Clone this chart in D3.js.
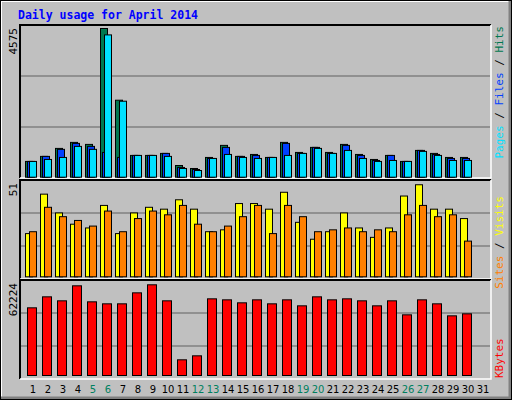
<!DOCTYPE html>
<html><head><meta charset="utf-8">
<script src="https://cdn.jsdelivr.net/npm/d3@7"></script>
<style>body{margin:0;background:#fff}</style>
</head><body><svg id="c" width="512" height="400"></svg>
<script>
const days = d3.range(1, 32);
const weekends = [5,6,12,13,19,20,26,27];
const hits  = [485,640,886,1071,1009,4575,2369,670,670,732,360,268,608,979,640,700,608,1071,762,917,762,1009,700,546,670,485,824,732,608,608,0];
const files = [485,640,857,1040,948,762,608,670,670,732,300,237,577,917,640,670,608,1040,732,917,732,979,670,515,670,485,824,700,577,577,0];
const pages = [485,546,608,948,857,4378,2338,670,670,640,268,206,577,700,608,577,608,670,732,886,732,824,577,485,515,485,794,670,515,515,0];
const visits = [23,44,34,28,26,38,23,34,37,36,41,36,24,25,39,39,36,45,29,20,24,34,26,21,26,43,49,36,36,31,0];
const sites  = [24,37,32,30,27,35,24,31,35,33,38,28,24,27,32,38,23,38,32,24,25,26,24,25,24,33,38,32,33,19,0];
const kbytes = [46430,53970,51230,61530,50540,49170,49170,56710,62224,51230,10760,13500,52600,51910,49860,51910,49170,51910,47800,53970,51910,52600,51230,47800,51230,41620,51910,49170,40930,42300,0];
const maxLabels = ["4575","51","62224"];

const svg = d3.select("#c");
const mono = "'DejaVu Sans Mono','Liberation Mono',monospace";
svg.append("rect").attr("width",512).attr("height",400).attr("fill","#C0C0C0");
// 3D outer border
svg.append("path").attr("d","M1,399V1H511").attr("stroke","#fff").attr("stroke-width",2).attr("fill","none");
svg.append("path").attr("d","M1,398H510V1").attr("stroke","#808080").attr("stroke-width",3).attr("fill","none");
svg.append("rect").attr("x",0.5).attr("y",0.5).attr("width",511).attr("height",399).attr("fill","none").attr("stroke","#000");

svg.append("text").attr("x",18).attr("y",19).attr("font-family",mono).attr("font-weight","bold")
  .attr("font-size",11.5).attr("fill","#0000FF").text("Daily usage for April 2014");

const x = d3.scaleLinear().domain([1,2]).range([25,40]);

function panel(top, bottom, base, maxY, maxV, label){
  svg.append("rect").attr("x",20).attr("y",top).attr("width",471).attr("height",bottom-top).attr("fill","#C0C0C0");
  const h = bottom-top;
  [1,2].forEach(i=>svg.append("line").attr("x1",21).attr("x2",490)
     .attr("y1",top+h*i/3).attr("y2",top+h*i/3).attr("stroke","#808080").attr("stroke-width",1.5));
  svg.append("path").attr("d",`M20,${bottom}V${top}H491`).attr("stroke","#000").attr("stroke-width",2).attr("fill","none");
  svg.append("path").attr("d",`M20,${bottom}H491V${top}`).attr("stroke","#fff").attr("stroke-width",1.5).attr("fill","none");
  svg.append("text").attr("transform",`translate(17,${top+3}) rotate(-90)`).attr("text-anchor","end")
    .attr("font-family",mono).attr("font-size",11).attr("fill","#000").text(label);
  return d3.scaleLinear().domain([0,maxV]).range([base,maxY]);
}
function bars(y, data, off, w, color){
  svg.append("g").selectAll("rect").data(data.map((v,i)=>({d:days[i],v})).filter(o=>o.v>0)).join("rect")
    .attr("x",o=>x(o.d)+off+0.5).attr("y",o=>y(o.v)+0.5).attr("width",w-1).attr("height",o=>y(0)-y(o.v))
    .attr("fill",color).attr("stroke","#000").attr("stroke-width",1);
}
const y1 = panel(25,178,176.7,28,4575,maxLabels[0]);
bars(y1,hits,0,8,"#007850"); bars(y1,files,2,8,"#0040FF"); bars(y1,pages,4,8,"#00E0FF");
const y2 = panel(180,279,276.3,180.5,51,maxLabels[1]);
bars(y2,visits,0,8,"#FFFF00"); bars(y2,sites,4,8,"#FF8000");
const y3 = panel(280,379,375,284.3,62224,maxLabels[2]);
bars(y3,kbytes,2,10,"#FF0000");

// right legends
function legend(yPos, anchor, parts){
  const t = svg.append("text").attr("transform",`translate(503,${yPos}) rotate(-90)`).attr("text-anchor",anchor)
    .attr("font-family",mono).attr("font-size",11);
  parts.forEach(p=>t.append("tspan").attr("fill",p[1]).text(p[0]));
}
legend(26,"end",[["Pages","#00E0FF"],[" / ","#000"],["Files","#0040FF"],[" / ","#000"],["Hits","#007850"]]);
legend(196,"end",[["Sites","#FF8000"],[" / ","#000"],["Visits","#FFFF00"]]);
legend(378,"start",[["KBytes","#FF0000"]]);

svg.append("g").selectAll("text").data(days).join("text")
  .attr("x",d=>x(d)+8).attr("y",393).attr("text-anchor","middle")
  .attr("font-family","'DejaVu Sans',sans-serif").attr("font-size",10)
  .attr("fill",d=>weekends.includes(d)?"#00805F":"#000").text(d=>d);
</script></body></html>
